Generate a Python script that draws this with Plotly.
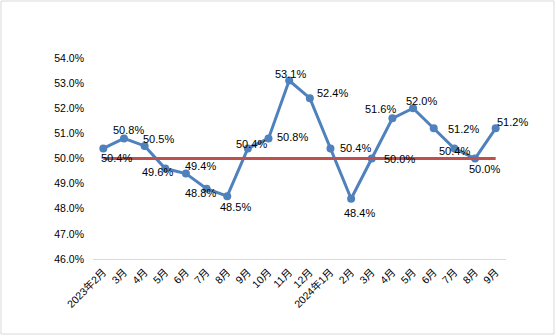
import plotly.graph_objects as go

months = ["2023年2月", "3月", "4月", "5月", "6月", "7月", "8月", "9月", "10月", "11月", "12月",
          "2024年1月", "2月", "3月", "4月", "5月", "6月", "7月", "8月", "9月"]
pmi = [50.4, 50.8, 50.5, 49.6, 49.4, 48.8, 48.5, 50.4, 50.8, 53.1, 52.4,
       50.4, 48.4, 50.0, 51.6, 52.0, 51.2, 50.4, 50.0, 51.2]
threshold_value = 50.0
threshold = [threshold_value for _ in months]

# label offsets in pixels (dx right, dy down) - style only
label_offsets = [(13, 10), (5, -8), (14, -7), (-8, 3), (15, -8), (-6, 4), (8, 11),
                 (4, -4), (24, -1), (1, -7), (23, -5), (25, 0), (8, 14), (28, 0),
                 (-12, -9), (8, -7), (30, 1), (0, 3), (9, 10), (17, -6)]

# unique category keys so repeated month names stay separate
xkeys = list(range(len(months)))

FONT = "Liberation Sans, Arial, Noto Sans CJK SC, sans-serif"

fig = go.Figure()
fig.add_trace(go.Scatter(
    x=xkeys, y=pmi, mode="lines+markers",
    line=dict(color="#4F81BD", width=3),
    marker=dict(color="#4F81BD", size=8),
    showlegend=False, hoverinfo="skip"))
fig.add_trace(go.Scatter(
    x=xkeys, y=threshold, mode="lines",
    line=dict(color="#C0504D", width=3),
    showlegend=False, hoverinfo="skip"))

for i, (v, (dx, dy)) in enumerate(zip(pmi, label_offsets)):
    fig.add_annotation(x=xkeys[i], y=v, text=f"{v:.1f}%", showarrow=False,
                       xshift=dx, yshift=-dy,
                       font=dict(family=FONT, size=11, color="#000000"))

L, R, T, B = 93, 50, 58, 77
W, H = 556, 336
pw, ph = W - L - R, H - T - B

fig.add_shape(type="rect", xref="paper", yref="paper",
              x0=(1 - L) / pw, x1=(554 - L) / pw,
              y0=-(334 - T - ph) / ph, y1=1 + (T - 1) / ph,
              line=dict(color="#D9D9D9", width=1), fillcolor="rgba(0,0,0,0)",
              layer="below")

fig.update_layout(
    width=W, height=H,
    margin=dict(l=L, r=R, t=T, b=B),
    paper_bgcolor="white", plot_bgcolor="white",
    font=dict(family=FONT, size=10.5, color="#000000"),
    xaxis=dict(
        tickmode="array", tickvals=xkeys, ticktext=months,
        range=[-0.5, len(months) - 0.5],
        tickangle=-45, showgrid=False, zeroline=False,
        showline=True, linecolor="#D9D9D9", linewidth=1,
        ticks="", tickfont=dict(size=10.5, family=FONT),
        ticklabelstandoff=2,
    ),
    yaxis=dict(
        range=[46, 54], dtick=1, tickformat=".1f", ticksuffix="%",
        showgrid=False, zeroline=False, showline=False, ticks="",
        tickfont=dict(size=10.5, family=FONT),
        ticklabelstandoff=8,
    ),
)

fig.write_html("out.html")
